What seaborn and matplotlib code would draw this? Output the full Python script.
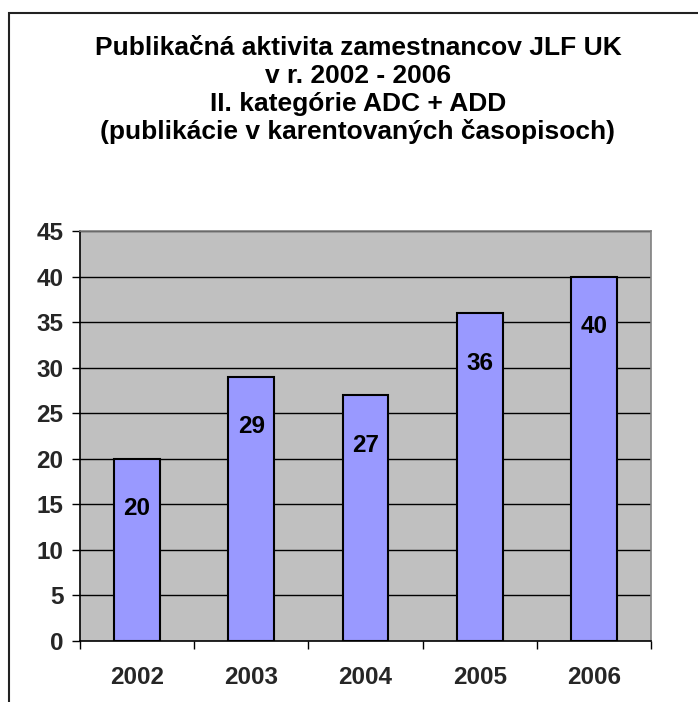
import matplotlib
matplotlib.use("Agg")
import matplotlib.pyplot as plt
import seaborn as sns
import pandas as pd
from matplotlib.patches import Rectangle
from matplotlib.ticker import FixedLocator

years = ["2002", "2003", "2004", "2005", "2006"]
values = [20, 29, 27, 36, 40]
yticks = [0, 5, 10, 15, 20, 25, 30, 35, 40, 45]
title_lines = [
    "Publikačná aktivita zamestnancov JLF UK",
    "v r. 2002 - 2006",
    "II. kategórie ADC + ADD",
    "(publikácie v karentovaných časopisoch)",
]

sns.set_style("white")
plt.rcParams['font.family'] = ['Liberation Sans', 'DejaVu Sans']

df = pd.DataFrame({"year": years, "value": values})

fig = plt.figure(figsize=(6.98, 7.02), dpi=100)
ax = fig.add_axes([80/698, 61/702, 571/698, 410/702])
ax.set_facecolor("#C0C0C0")

for t in yticks[1:]:
    ax.axhline(t, color="black", lw=1.0, zorder=1)

sns.barplot(data=df, x="year", y="value", ax=ax, width=0.4, color="#9999FF",
            edgecolor="black", linewidth=1.5, saturation=1, zorder=2)

for i, v in enumerate(values):
    ax.text(i, v - 5.5, str(v), ha="center", va="center", fontsize=17.5,
            fontweight="bold", color="black", zorder=3)

ax.set_xlim(-0.5, 4.5)
ax.set_ylim(0, 45)
ax.set_yticks(yticks)
ax.set_yticklabels([str(t) for t in yticks], fontsize=17.5, fontweight="bold")
ax.set_xticks(range(len(years)))
ax.set_xticklabels(years, fontsize=17.5, fontweight="bold")
ax.xaxis.set_minor_locator(FixedLocator([-0.5, 0.5, 1.5, 2.5, 3.5, 4.5]))
ax.tick_params(axis="x", which="major", length=0, pad=18)
ax.tick_params(axis="x", which="minor", length=6, width=1, color="black", direction="out", bottom=True)
ax.tick_params(axis="y", which="major", length=6, width=1, color="black", direction="out", left=True, pad=6)
ax.set_xlabel("")
ax.set_ylabel("")

for side in ["left", "bottom"]:
    ax.spines[side].set_color("black")
    ax.spines[side].set_linewidth(1.2)
for side in ["top", "right"]:
    ax.spines[side].set_color("#808080")
    ax.spines[side].set_linewidth(1.2)
    ax.spines[side].set_visible(True)

ys = [48, 76, 104, 132]
for line, y in zip(title_lines, ys):
    fig.text(358/698, 1 - y/702, line, ha="center", va="center", fontsize=19,
             fontweight="bold", color="black")

fig.patches.append(Rectangle((9/698, -0.05), 1.0, 1 - 13/702 + 0.05,
                             transform=fig.transFigure, fill=False,
                             edgecolor="#222222", linewidth=1.5))

fig.savefig("out.png", dpi=100)
